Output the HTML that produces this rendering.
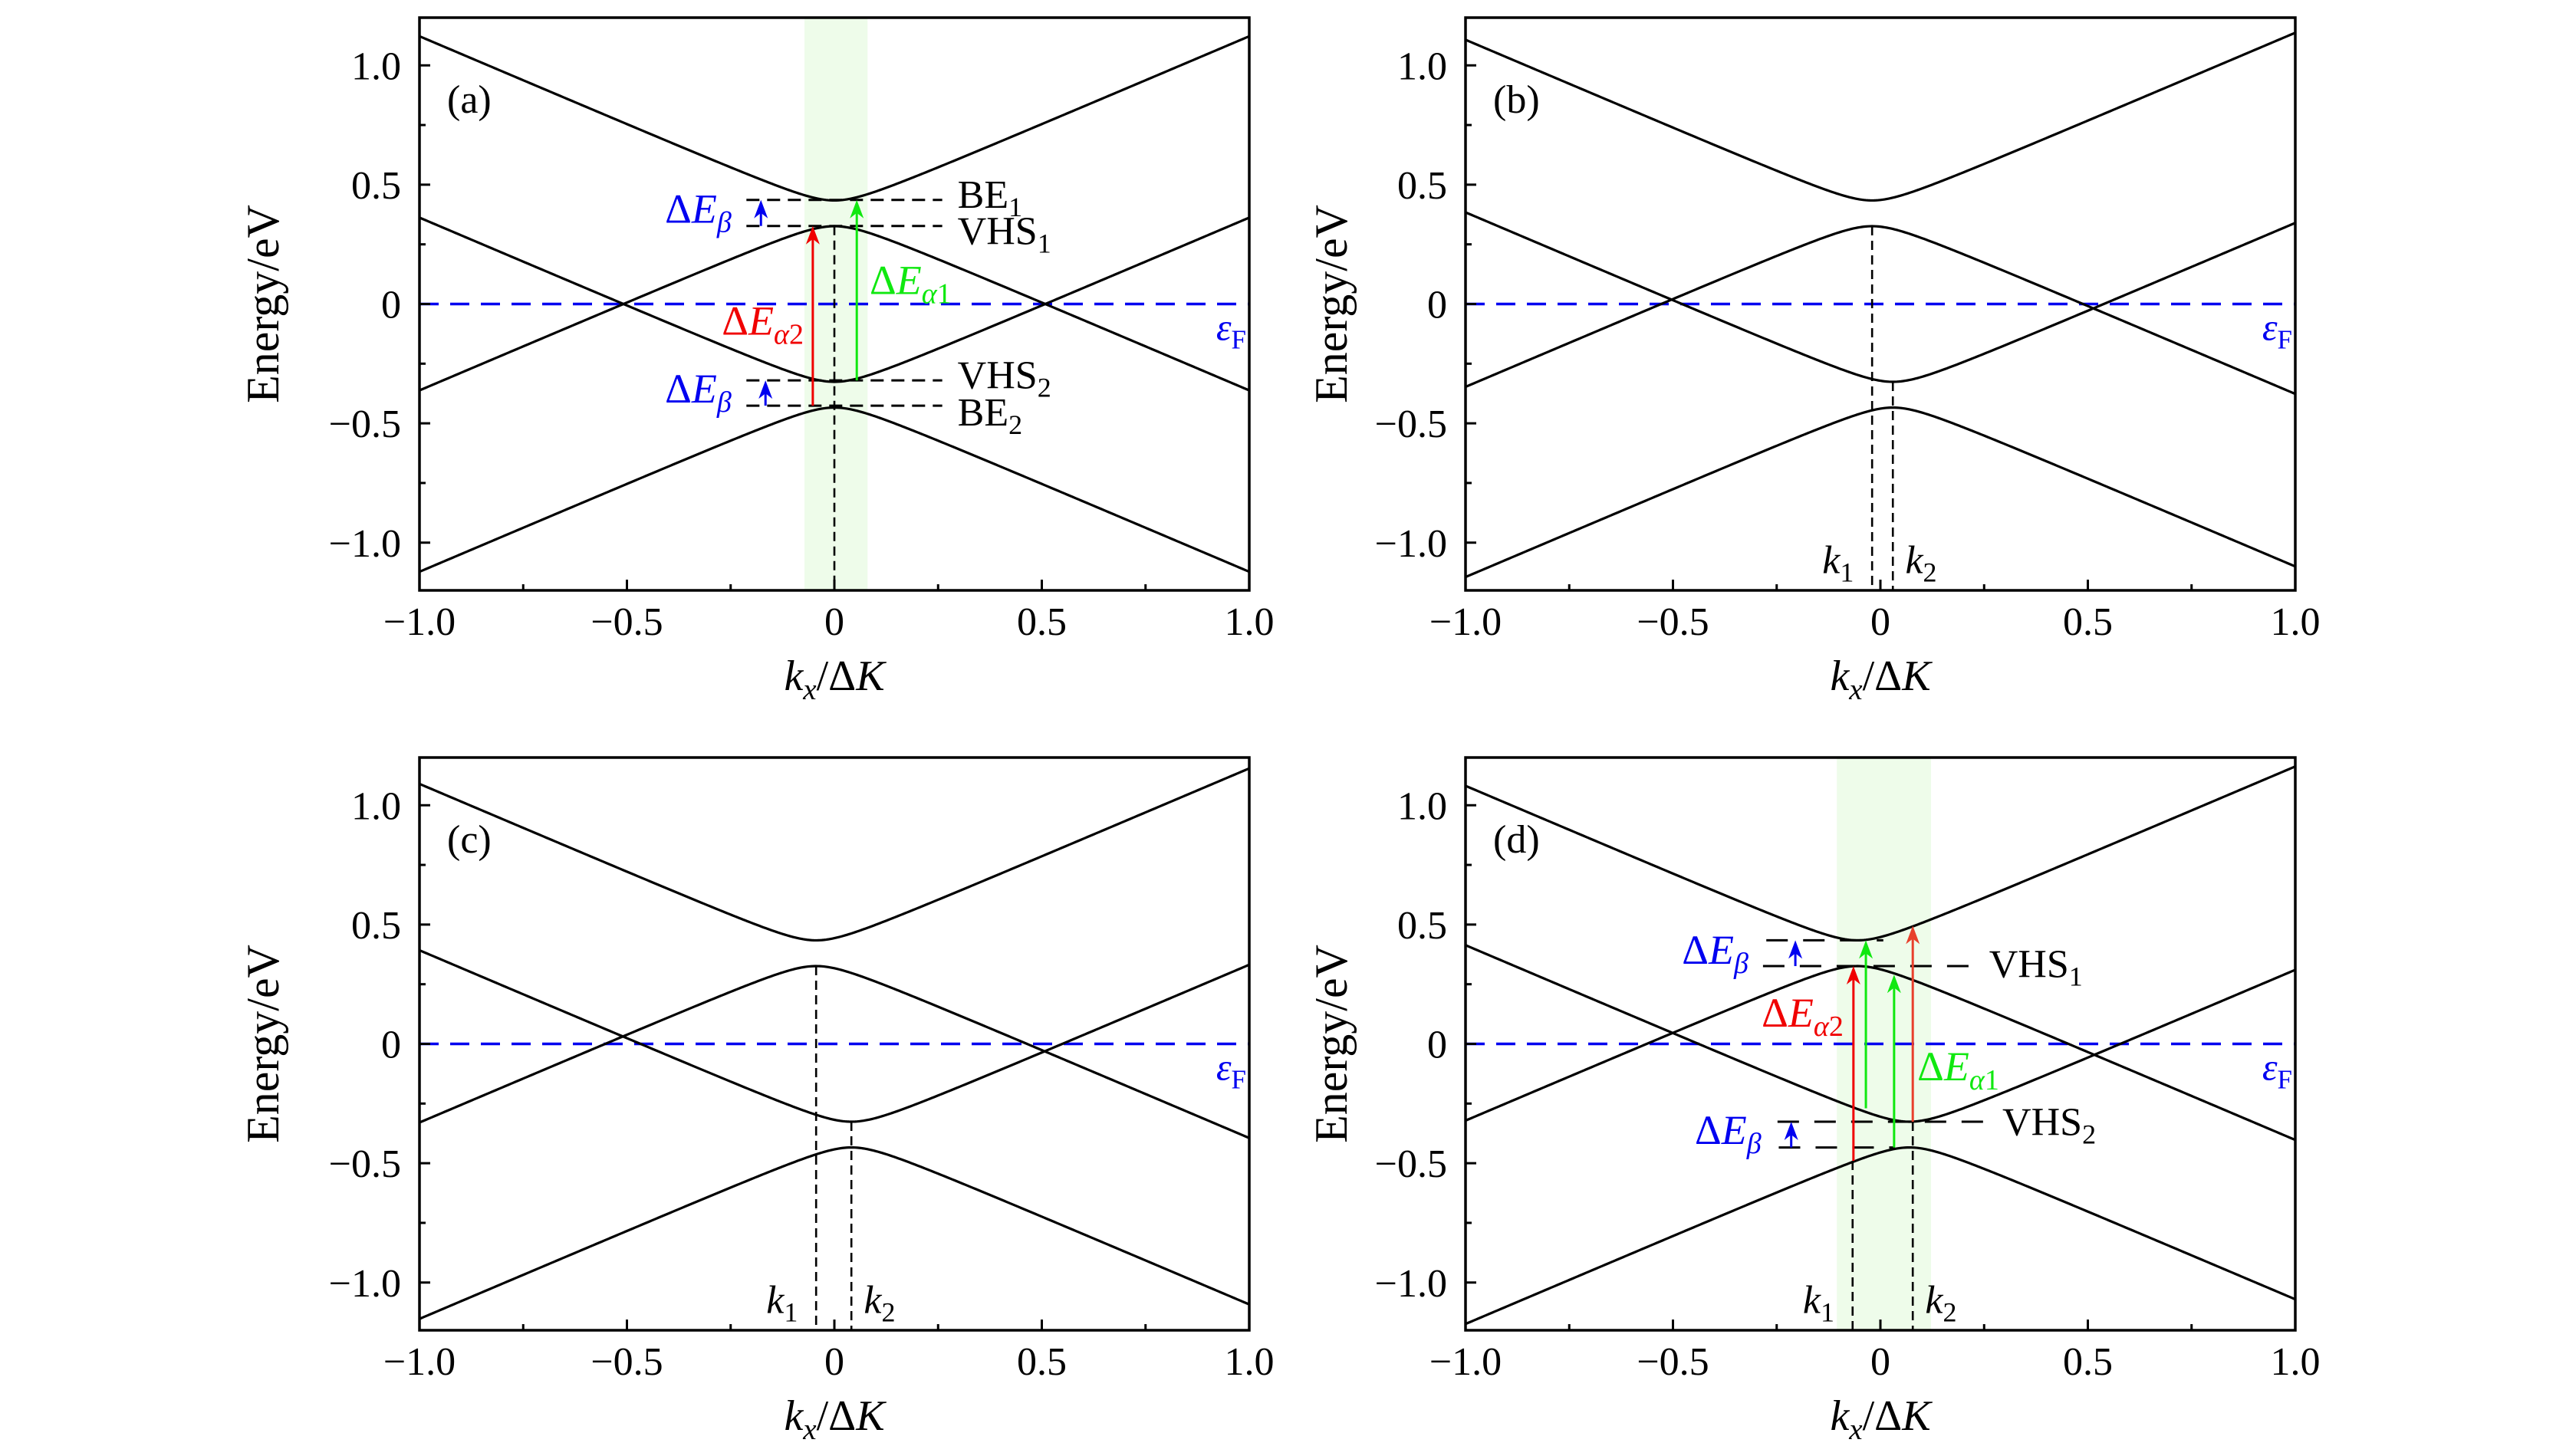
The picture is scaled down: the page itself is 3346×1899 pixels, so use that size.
<!DOCTYPE html>
<html>
<head>
<meta charset="utf-8">
<style>
html,body{margin:0;padding:0;background:#fff;}
svg{display:block;font-family:"Liberation Serif","DejaVu Serif",serif;}
</style>
</head>
<body>
<svg id="fig" xmlns="http://www.w3.org/2000/svg" width="3346" height="1899" viewBox="0 0 3346 1899">
<rect x="0" y="0" width="3346" height="1899" fill="#fff"/>
</svg>
<script>
// ---- data ----
const panelIds = ['a', 'b', 'c', 'd'];
const upperCenterK = [0, -0.02, -0.044, -0.055];
const lowerCenterK = [0, 0.03, 0.041, 0.07];
const pairOffsetE = [0.38, 0.38, 0.38, 0.38];
const gapHalfE = [0.054, 0.054, 0.054, 0.054];
const bandVelocity = [0.74, 0.74, 0.74, 0.74];
const xTickValues = [-1, -0.5, 0, 0.5, 1];
const xTickLabels = ['\u22121.0', '\u22120.5', '0', '0.5', '1.0'];
const yTickValues = [1, 0.5, 0, -0.5, -1];
const yTickLabels = ['1.0', '0.5', '0', '\u22120.5', '\u22121.0'];
const minorTickValues = [-0.75, -0.25, 0.25, 0.75];
const highlightRanges = [[-0.072, 0.08], null, null, [-0.105, 0.122]];
const fermiEnergy = 0;

// annotation data (k, E values)
const levelLinesA = [[0.436, -0.212, 0.26], [0.327, -0.212, 0.26], [-0.32, -0.212, 0.26], [-0.426, -0.212, 0.26]];
const levelLabelsA = [['BE', '1', 0.297, 0.404], ['VHS', '1', 0.297, 0.25], ['VHS', '2', 0.297, -0.353], ['BE', '2', 0.297, -0.51]];
const levelLinesD = [[0.434, -0.275, 0.007], [0.326, -0.283, 0.224], [-0.326, -0.248, 0.255], [-0.434, -0.245, 0.035]];
const levelLabelsD = [['VHS', '1', 0.262, 0.28], ['VHS', '2', 0.294, -0.383]];
// arrows: [k, Efrom, Eto, colour]
const arrowsA = [[-0.177, 0.327, 0.436, 'blue'], [-0.166, -0.426, -0.32, 'blue'], [-0.052, -0.426, 0.327, 'red'], [0.054, -0.32, 0.436, 'green']];
const arrowsD = [[-0.205, 0.326, 0.434, 'blue'], [-0.215, -0.434, -0.326, 'blue'], [-0.065, -0.49, 0.326, 'red'], [0.078, -0.326, 0.495, 'red2'], [-0.035, -0.27, 0.434, 'green'], [0.033, -0.434, 0.29, 'green']];
// delta labels: [kind, k, E, anchor]
const deltaLabelsA = [['beta', -0.248, 0.34, 'end'], ['beta', -0.248, -0.413, 'end'], ['a2', -0.074, -0.128, 'end'], ['a1', 0.085, 0.042, 'start']];
const deltaLabelsD = [['beta', -0.318, 0.335, 'end'], ['beta', -0.287, -0.419, 'end'], ['a2', -0.089, 0.072, 'end'], ['a1', 0.089, -0.153, 'start']];
// vertical dashed k lines: [k, Etop]
const kLinesA = [[0, 0.327]];
const kLinesB = [[-0.02, 0.326], [0.03, -0.326]];
const kLinesC = [[-0.044, 0.326], [0.041, -0.326]];
const kLinesD = [[-0.067, -0.49], [0.078, -0.326]];

// ---- layout ----
const panelLeft = [547, 1911, 547, 1911];
const panelTop = [23, 23, 988, 988];
const PW = 1082, PH = 747, EMAX = 1.2, EMIN = -1.2;
const yTitleOffset = [202, 173, 202, 173];
const COLORS = {blue: '#0000f0', red: '#f00000', red2: '#e8402c', green: '#10e810', black: '#000'};

const NS = 'http://www.w3.org/2000/svg';
const svg = document.getElementById('fig');
function el(tag, parent) { const e = document.createElementNS(NS, tag); parent.appendChild(e); return e; }
function X(p, k) { return panelLeft[p] + (k + 1) / 2 * PW; }
function Y(p, E) { return panelTop[p] + (EMAX - E) / (EMAX - EMIN) * PH; }

function addText(parent, x, y, anchor, size, color, segs) {
  const t = el('text', parent);
  t.setAttribute('x', x); t.setAttribute('y', y);
  t.setAttribute('text-anchor', anchor);
  t.setAttribute('font-size', size);
  t.setAttribute('fill', color);
  let shift = 0;
  segs.forEach(s => {
    const ts = el('tspan', t);
    ts.textContent = s.t;
    if (s.it) ts.setAttribute('font-style', 'italic');
    const want = s.sub ? Math.round(size * 0.22) : 0;
    if (want !== shift) { ts.setAttribute('dy', want - shift); shift = want; }
    if (s.sub) ts.setAttribute('font-size', Math.round(size * 0.7));
  });
  return t;
}

function line(parent, x1, y1, x2, y2, color, w, dash) {
  const l = el('line', parent);
  l.setAttribute('x1', x1); l.setAttribute('y1', y1); l.setAttribute('x2', x2); l.setAttribute('y2', y2);
  l.setAttribute('stroke', color); l.setAttribute('stroke-width', w);
  if (dash) l.setAttribute('stroke-dasharray', dash);
  return l;
}

function deltaSegs(kind) {
  if (kind === 'beta') return [{t: '\u0394'}, {t: 'E', it: 1}, {t: '\u03b2', it: 1, sub: 1}];
  if (kind === 'a1') return [{t: '\u0394'}, {t: 'E', it: 1}, {t: '\u03b1', it: 1, sub: 1}, {t: '1', sub: 1}];
  return [{t: '\u0394'}, {t: 'E', it: 1}, {t: '\u03b1', it: 1, sub: 1}, {t: '2', sub: 1}];
}
function deltaColor(kind) { return kind === 'beta' ? COLORS.blue : kind === 'a1' ? COLORS.green : COLORS.red; }

for (let p = 0; p < 4; p++) {
  const g = el('g', svg);
  
  
  const L = panelLeft[p], T = panelTop[p], R = L + PW, B = T + PH;

  if (highlightRanges[p]) {
    const r = el('rect', g);
    
    
    const x1 = X(p, highlightRanges[p][0]), x2 = X(p, highlightRanges[p][1]);
    r.setAttribute('x', x1); r.setAttribute('y', T); r.setAttribute('width', x2 - x1); r.setAttribute('height', PH);
    r.setAttribute('fill', '#eefcea');
  }

  const fl = line(g, L, Y(p, fermiEnergy), R, Y(p, fermiEnergy), COLORS.blue, 3.5, '25 15');
  
  
  const ef = addText(g, R - 4, Y(p, fermiEnergy) + 47, 'end', 50, COLORS.blue, [{t: '\u03b5', it: 1}, {t: 'F', sub: 1}]);
  
  

  const c = pairOffsetE[p], t = gapHalfE[p], v = bandVelocity[p];
  const bandDefs = [[c, 1, upperCenterK[p]], [c, -1, upperCenterK[p]], [-c, 1, lowerCenterK[p]], [-c, -1, lowerCenterK[p]]];
  bandDefs.forEach((bd, bi) => {
    let d = '';
    for (let i = 0; i <= 400; i++) {
      const k = -1 + 2 * i / 400;
      const E = bd[0] + bd[1] * Math.sqrt(Math.pow(v * (k - bd[2]), 2) + t * t);
      d += (i ? 'L' : 'M') + X(p, k).toFixed(2) + ' ' + Y(p, E).toFixed(2);
    }
    const path = el('path', g);
    
    
    path.setAttribute('d', d);
    path.setAttribute('fill', 'none'); path.setAttribute('stroke', '#000'); path.setAttribute('stroke-width', 3.2);
  });

  const kl = [kLinesA, kLinesB, kLinesC, kLinesD][p];
  kl.forEach(q => {
    const l = line(g, X(p, q[0]), Y(p, q[1]), X(p, q[0]), B, '#000', 2.6, '12 7');
    
    
  });
  if (p > 0) {
    const k1 = addText(g, X(p, kl[0][0] - 0.044), Y(p, -1.127), 'end', 52, '#000', [{t: 'k', it: 1}, {t: '1', sub: 1}]);
    
    
    const k2 = addText(g, X(p, kl[1][0] + 0.03), Y(p, -1.127), 'start', 52, '#000', [{t: 'k', it: 1}, {t: '2', sub: 1}]);
    
    
  }

  if (p === 0 || p === 3) {
    const lines = p === 0 ? levelLinesA : levelLinesD;
    const labs = p === 0 ? levelLabelsA : levelLabelsD;
    lines.forEach(q => {
      const l = line(g, X(p, q[1]), Y(p, q[0]), X(p, q[2]), Y(p, q[0]), '#000', 3, p === 0 ? '17 10' : '28 20');
      
      
    });
    labs.forEach(q => {
      const tx = addText(g, X(p, q[2]), Y(p, q[3]), 'start', 52, '#000', [{t: q[0]}, {t: q[1], sub: 1}]);
      
      
    });
    const arrs = p === 0 ? arrowsA : arrowsD;
    arrs.forEach(q => {
      const col = COLORS[q[3]];
      const x = X(p, q[0]), y1 = Y(p, q[1]), y2 = Y(p, q[2]);
      const ag = el('g', g);
      
      
      line(ag, x, y1, x, y2 + 12, col, 3);
      const head = el('polygon', ag);
      head.setAttribute('points', x + ',' + y2 + ' ' + (x - 9) + ',' + (y2 + 24) + ' ' + x + ',' + (y2 + 17) + ' ' + (x + 9) + ',' + (y2 + 24));
      head.setAttribute('fill', col);
    });
    const dls = p === 0 ? deltaLabelsA : deltaLabelsD;
    dls.forEach(q => {
      const tx = addText(g, X(p, q[1]), Y(p, q[2]), q[3], 54, deltaColor(q[0]), deltaSegs(q[0]));
      
      
    });
  }

  const fr = el('rect', g);
  
  
  fr.setAttribute('x', L); fr.setAttribute('y', T); fr.setAttribute('width', PW); fr.setAttribute('height', PH);
  fr.setAttribute('fill', 'none'); fr.setAttribute('stroke', '#000'); fr.setAttribute('stroke-width', 3.5);

  xTickValues.forEach((k, i) => {
    const tk = line(g, X(p, k), B, X(p, k), B - 14, '#000', 3);
    
    
    const lb = addText(g, X(p, k), B + 58, 'middle', 52, '#000', [{t: xTickLabels[i]}]);
    
    
  });
  minorTickValues.forEach(k => {
    const tk = line(g, X(p, k), B, X(p, k), B - 8, '#000', 3);
    
    
  });
  yTickValues.forEach((E, i) => {
    const tk = line(g, L, Y(p, E), L + 14, Y(p, E), '#000', 3);
    
    
    const lb = addText(g, L - 24, Y(p, E) + 18, 'end', 52, '#000', [{t: yTickLabels[i]}]);
    
    
  });
  minorTickValues.forEach(E => {
    const tk = line(g, L, Y(p, E), L + 8, Y(p, E), '#000', 3);
    
    
  });

  const pl = addText(g, L + 36, T + 124, 'start', 52, '#000', [{t: '(' + panelIds[p] + ')'}]);
  
  

  const xt = addText(g, L + PW / 2, B + 130, 'middle', 56, '#000', [{t: 'k', it: 1}, {t: 'x', it: 1, sub: 1}, {t: '/\u0394'}, {t: 'K', it: 1}]);
  
  
  const yx = L - yTitleOffset[p] + 18, yy = T + PH / 2;
  const yt = addText(g, yx, yy, 'middle', 60, '#000', [{t: 'Energy/eV'}]);
  yt.setAttribute('transform', 'rotate(-90 ' + yx + ' ' + yy + ')');
  
  
}
</script>
</body>
</html>
